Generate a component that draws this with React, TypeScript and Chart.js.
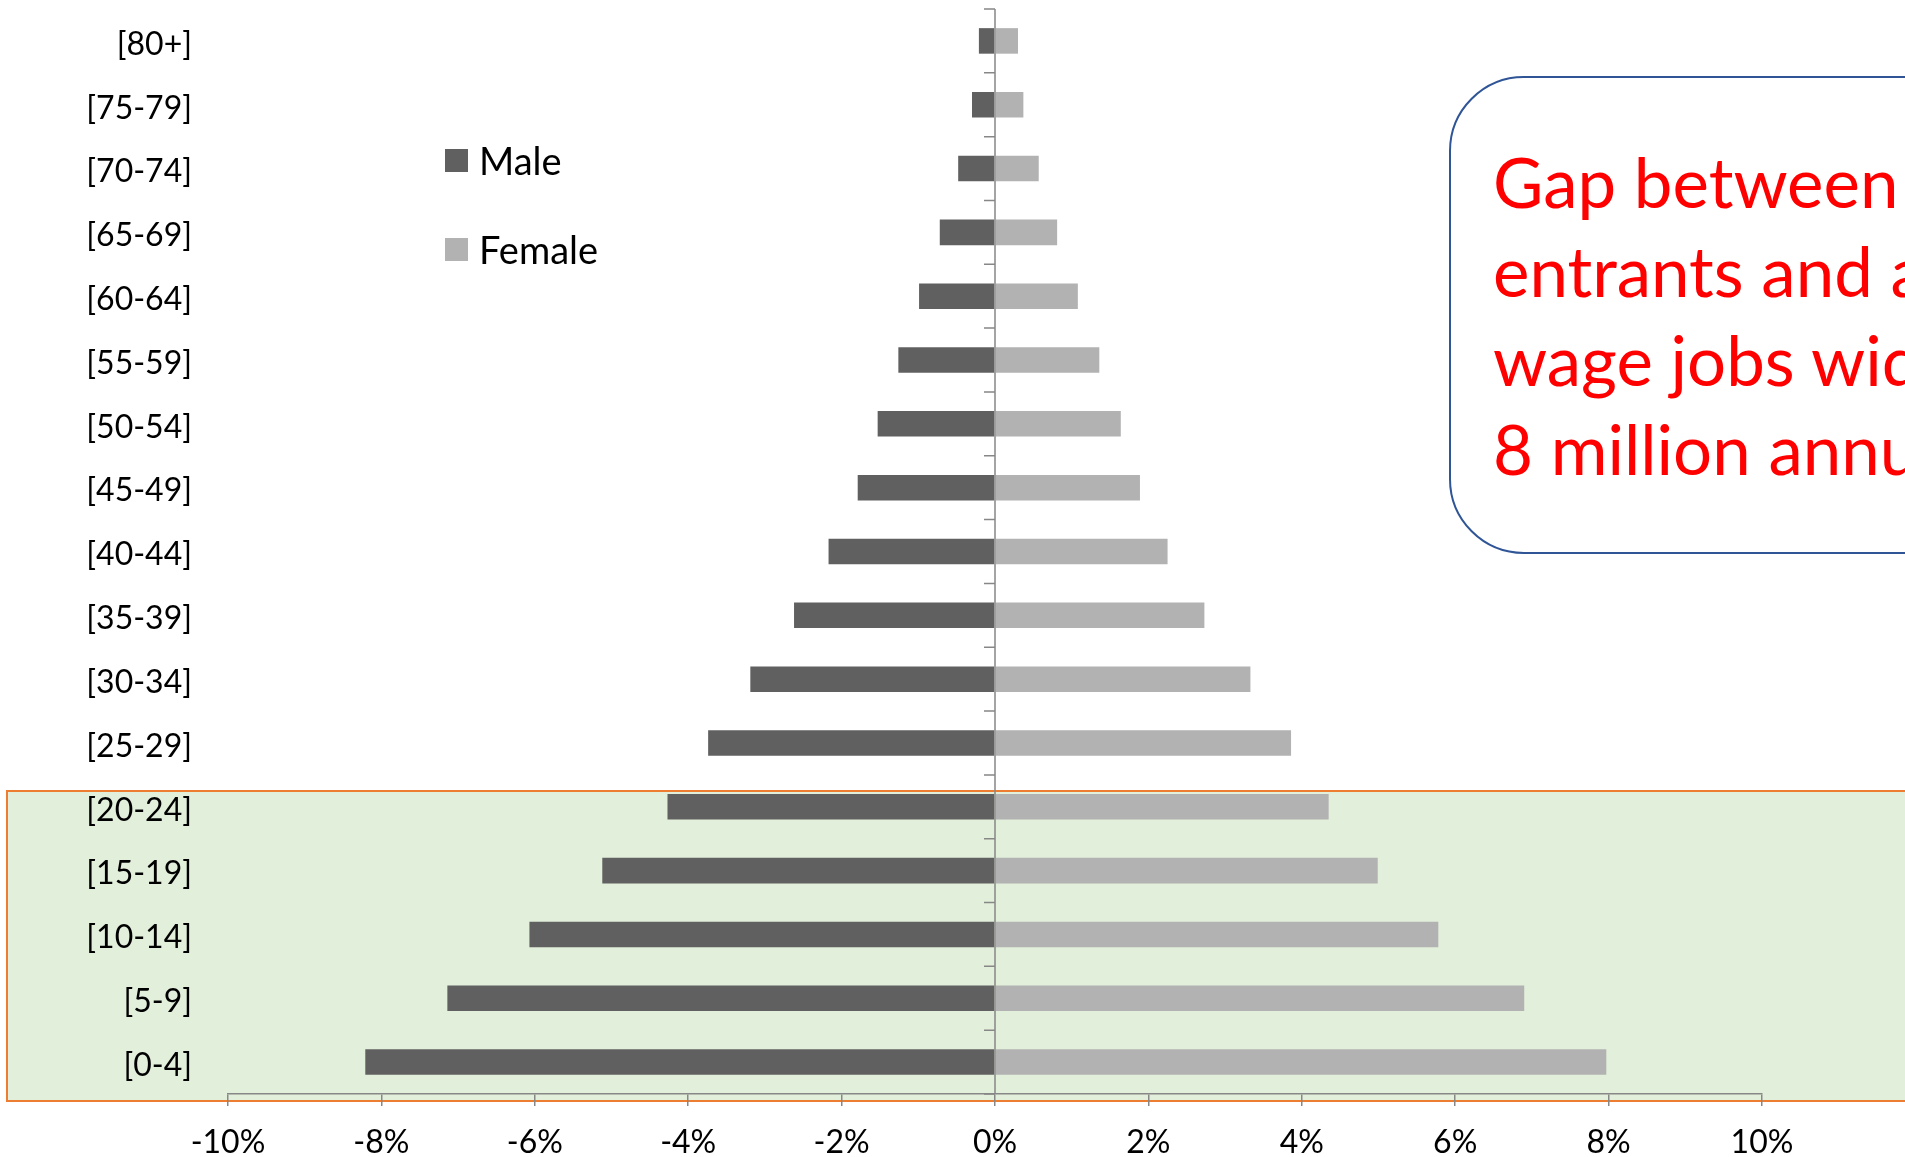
import React, { useEffect, useRef } from "react";
import { Chart, registerables } from "chart.js";

Chart.register(...registerables);

// ---- data (top row to bottom row) ----
const ageGroups = [
  "[80+]", "[75-79]", "[70-74]", "[65-69]", "[60-64]", "[55-59]", "[50-54]", "[45-49]",
  "[40-44]", "[35-39]", "[30-34]", "[25-29]", "[20-24]", "[15-19]", "[10-14]", "[5-9]", "[0-4]",
];
const maleShare = [
  -0.21, -0.30, -0.48, -0.72, -0.99, -1.26, -1.53, -1.79,
  -2.17, -2.62, -3.19, -3.74, -4.27, -5.12, -6.07, -7.14, -8.21,
];
const femaleShare = [
  0.30, 0.37, 0.57, 0.81, 1.08, 1.36, 1.64, 1.89,
  2.25, 2.73, 3.33, 3.86, 4.35, 4.99, 5.78, 6.90, 7.97,
];
const seriesNames = ["Male", "Female"];
const xMin = -10;
const xMax = 10;
const xStep = 2;
const noteLines = [
  "Gap between new",
  "entrants and available",
  "wage jobs widens to",
  "8 million annually",
];

// ---- styles ----
const MALE_COLOR = "#606060";
const FEMALE_COLOR = "#B2B2B2";
const AXIS_COLOR = "#878787";
const FONT = "Lato, 'Open Sans', sans-serif";
const seriesColors = [MALE_COLOR, FEMALE_COLOR];

const zeroAxisPlugin = {
  id: "zeroAxis",
  afterDatasetsDraw(chart: any) {
    const { ctx, scales } = chart;
    const xs = scales.x;
    const ys = scales.y;
    const x0 = xs.getPixelForValue(0);
    ctx.save();
    ctx.strokeStyle = AXIS_COLOR;
    ctx.lineWidth = 1.5;
    ctx.beginPath();
    ctx.moveTo(x0, ys.top);
    ctx.lineTo(x0, ys.bottom);
    const n = ys.ticks.length;
    for (let i = 0; i <= n; i++) {
      let py;
      if (i === 0) py = ys.top;
      else if (i === n) py = ys.bottom;
      else py = (ys.getPixelForValue(i - 1) + ys.getPixelForValue(i)) / 2;
      ctx.moveTo(x0 - 11, py);
      ctx.lineTo(x0, py);
    }
    ctx.stroke();
    ctx.restore();
  },
};

export default function App() {
  const canvasRef = useRef<HTMLCanvasElement | null>(null);

  useEffect(() => {
    const canvas = canvasRef.current;
    if (!canvas) return;
    const chart = new Chart(canvas, {
      type: "bar",
      data: {
        labels: ageGroups,
        datasets: [
          {
            label: seriesNames[0],
            data: maleShare,
            backgroundColor: MALE_COLOR,
            borderWidth: 0,
            categoryPercentage: 1,
            barPercentage: 0.4,
          },
          {
            label: seriesNames[1],
            data: femaleShare,
            backgroundColor: FEMALE_COLOR,
            borderWidth: 0,
            categoryPercentage: 1,
            barPercentage: 0.4,
          },
        ],
      },
      options: {
        indexAxis: "y",
        responsive: false,
        animation: false,
        devicePixelRatio: 1,
        layout: { padding: { left: 0, top: 9, right: 143, bottom: 0 } },
        plugins: {
          legend: { display: false },
          tooltip: { enabled: false },
        },
        scales: {
          x: {
            stacked: true,
            min: xMin,
            max: xMax,
            ticks: {
              stepSize: xStep,
              callback: (v: any) => `${v}%`,
              font: { family: FONT, size: 32 },
              color: "#000",
              padding: 17,
              maxRotation: 0,
            },
            grid: {
              display: true,
              drawOnChartArea: false,
              drawTicks: true,
              tickLength: 12,
              color: AXIS_COLOR,
              lineWidth: 1.5,
            },
            border: { display: true, color: AXIS_COLOR, width: 1.5 },
            afterFit: (s: any) => {
              s.height = 63;
              s.paddingLeft = 0;
              s.paddingRight = 0;
            },
          },
          y: {
            stacked: true,
            grid: { display: false, drawTicks: false },
            border: { display: false },
            ticks: {
              font: { family: FONT, size: 32 },
              color: "#000",
              padding: 36,
              labelOffset: 3.5,
            },
            afterFit: (s: any) => {
              s.width = 228;
              s.paddingTop = 0;
              s.paddingBottom = 0;
            },
          },
        },
      },
      plugins: [zeroAxisPlugin],
    });
    return () => chart.destroy();
  }, []);

  return (
    <div
      style={{
        position: "fixed",
        left: 0,
        top: 0,
        width: 1905,
        height: 1157,
        overflow: "hidden",
        background: "#fff",
      }}
    >
      {/* highlighted working-age entrants band */}
      <div
        style={{
          position: "absolute",
          left: 6,
          top: 790,
          width: 2000,
          height: 312,
          boxSizing: "border-box",
          border: "2.5px solid #ED7D31",
          background: "#E2EFDA",
          zIndex: 0,
        }}
      />
      <canvas
        ref={canvasRef}
        width={1905}
        height={1157}
        style={{ position: "absolute", left: 0, top: 0, zIndex: 1 }}
      />
      {/* legend */}
      {seriesNames.map((name, i) => (
        <div
          key={name}
          style={{
            position: "absolute",
            left: 445,
            top: 148 + i * 89,
            height: 24,
            display: "flex",
            alignItems: "center",
            zIndex: 2,
          }}
        >
          <div style={{ width: 23, height: 23, background: seriesColors[i] }} />
          <span
            style={{
              marginLeft: 11,
              fontFamily: FONT,
              fontSize: 38,
              color: "#000",
              lineHeight: "24px",
              whiteSpace: "nowrap",
            }}
          >
            {name}
          </span>
        </div>
      ))}
      {/* annotation */}
      <div
        style={{
          position: "absolute",
          left: 1449,
          top: 76,
          width: 800,
          height: 478,
          boxSizing: "border-box",
          border: "2.5px solid #2F5597",
          borderRadius: 75,
          background: "#fff",
          zIndex: 2,
        }}
      />
      <div
        style={{
          position: "absolute",
          left: 1493,
          top: 137,
          fontFamily: FONT,
          fontSize: 69,
          lineHeight: "89px",
          color: "#FF0000",
          whiteSpace: "nowrap",
          zIndex: 3,
        }}
      >
        {noteLines.map((t) => (
          <div key={t}>{t}</div>
        ))}
      </div>
    </div>
  );
}
